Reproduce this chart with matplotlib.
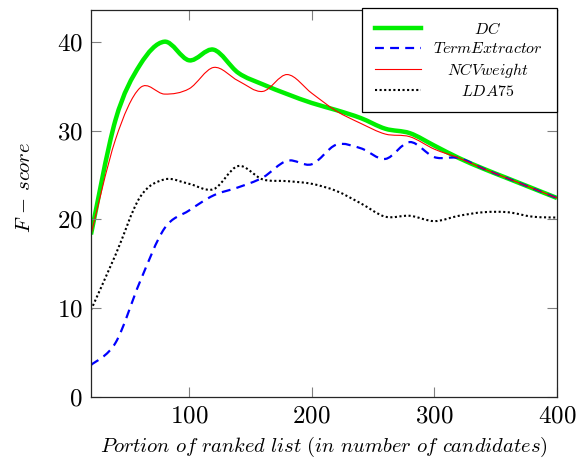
import matplotlib
matplotlib.use('Agg')
import matplotlib.pyplot as plt
import numpy as np
from matplotlib.path import Path
from matplotlib.patches import PathPatch
from matplotlib.lines import Line2D

plt.rcParams['mathtext.fontset'] = 'cm'
plt.rcParams['font.family'] = 'serif'
plt.rcParams['font.serif'] = ['cmr10']
plt.rcParams['axes.unicode_minus'] = False
plt.rcParams['axes.formatter.use_mathtext'] = True

# portion of ranked list (x) and F-score values
x = [20, 40, 60, 80, 100, 120, 140, 160, 180, 200,
     220, 240, 260, 280, 300, 320, 340, 360, 380, 400]
dc = [18.3, 31.2, 37.4, 40.0, 37.9, 39.1, 36.5, 35.2, 34.1, 33.1,
      32.3, 31.4, 30.2, 29.7, 28.3, 26.9, 25.7, 24.6, 23.5, 22.4]
term_extractor = [3.6, 6.1, 13.0, 19.0, 21.0, 22.7, 23.6, 24.7, 26.6, 26.2,
                  28.4, 28.0, 26.8, 28.7, 27.0, 26.9, 25.7, 24.6, 23.5, 22.4]
ncv_weight = [18.3, 29.0, 34.8, 34.1, 34.7, 37.1, 35.6, 34.4, 36.3, 34.2,
              32.2, 30.8, 29.6, 29.3, 27.9, 26.9, 25.7, 24.6, 23.5, 22.4]
lda75 = [9.8, 16.0, 22.5, 24.5, 24.0, 23.4, 26.0, 24.5, 24.3, 24.0,
         23.2, 21.8, 20.3, 20.4, 19.8, 20.4, 20.8, 20.8, 20.3, 20.2]

labels = [r'$DC$', r'$TermExtractor$', r'$NCVweight$', r'$LDA75$']
LEG_FS = 11.5


def smooth_path(xs, ys, tension=1 / 6):
    # bezier path through the points, like pgfplots "smooth"
    p = np.column_stack([xs, ys]).astype(float)
    n = len(p)
    verts = [p[0]]
    codes = [Path.MOVETO]
    for i in range(n - 1):
        prev = p[i - 1] if i > 0 else p[i]
        nxt = p[i + 2] if i + 2 < n else p[i + 1]
        c1 = p[i] + tension * (p[i + 1] - prev)
        c2 = p[i + 1] - tension * (nxt - p[i])
        verts += [c1, c2, p[i + 1]]
        codes += [Path.CURVE4] * 3
    return Path(verts, codes)


fig = plt.figure(figsize=(5.78, 4.61), dpi=100)
ax = fig.add_axes([91 / 578, 1 - 397 / 461, (557 - 91) / 578, (397 - 9.7) / 461])

series = [
    (dc, dict(color='#00ee00', lw=3.2, ls='-')),
    (term_extractor, dict(color='#0000ff', lw=1.6, ls=(0, (4.0, 2.8)))),
    (ncv_weight, dict(color='#ff0000', lw=0.8, ls='-')),
    (lda75, dict(color='black', lw=1.5, ls=(0, (1, 1.2)))),
]

handles = []
for ys, st in series:
    patch = PathPatch(smooth_path(x, ys), fill=False, edgecolor=st['color'],
                      lw=st['lw'], linestyle=st['ls'], capstyle='butt',
                      joinstyle='round', transform=ax.transData)
    ax.add_patch(patch)
    handles.append(Line2D([], [], color=st['color'], lw=st['lw'], ls=st['ls']))

ax.set_xlim(20, 400)
ax.set_ylim(0, 43.6)
ax.set_xticks([100, 200, 300, 400])
ax.set_yticks([0, 10, 20, 30, 40])
ax.tick_params(direction='in', length=7, width=0.8, color='0.5',
               top=True, right=True, labelsize=18, pad=6)
for sp in ax.spines.values():
    sp.set_linewidth(0.9)
    sp.set_color('0.15')

ax.set_xlabel(r'$\mathit{Portion\ of\ ranked\ list\ (in\ number\ of\ candidates)}$',
              fontsize=14.8, labelpad=5)
ax.set_ylabel(r'$F\,-\,score$', fontsize=14.8)
ax.yaxis.set_label_coords(-0.122, 0.54)

leg = ax.legend(handles, labels, loc='upper right',
                bbox_to_anchor=(0.582, 0, 0.418, 1.004), mode='expand',
                fontsize=LEG_FS, handlelength=2.85, handletextpad=0.8,
                borderpad=0.8, labelspacing=0.27, fancybox=False,
                framealpha=1, edgecolor='black', borderaxespad=0)
leg.get_frame().set_linewidth(0.9)

# centre the legend entries like pgfplots does
fig.canvas.draw()
renderer = fig.canvas.get_renderer()
texts = leg.get_texts()
widths = [t.get_window_extent(renderer).width for t in texts]
wmax = max(widths)
for t, w in zip(texts, widths):
    t.set_position(((wmax - w) / 2, 0))

fig.savefig('out.png', dpi=100)
